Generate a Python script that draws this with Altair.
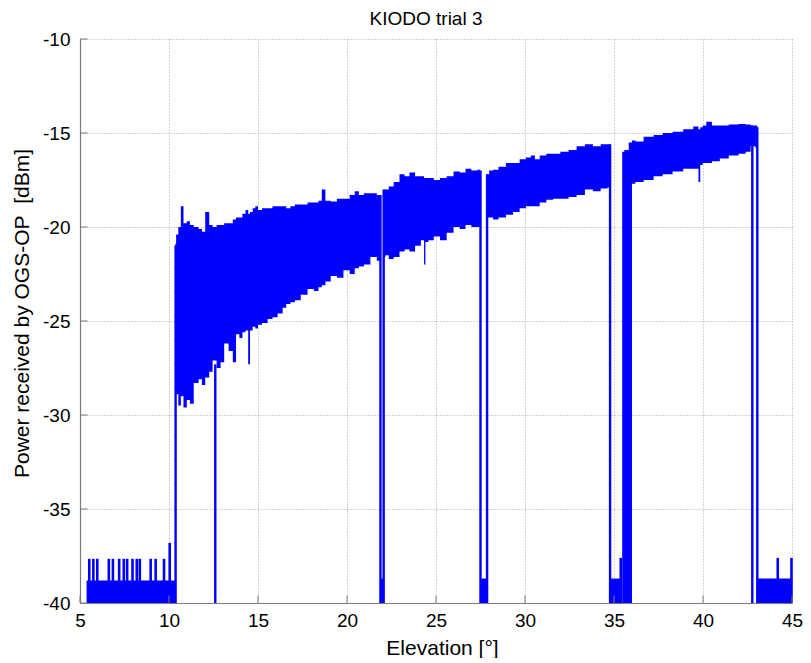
import altair as alt
import pandas as pd

# ---- received power envelope (upper / lower edge of the noisy trace), per segment ----
seg_a_elev = [10.35, 10.45, 10.6, 10.73, 10.9, 11.1, 11.25, 11.53, 11.8, 11.9, 12.17, 12.35, 12.55, 12.8,
              13.0, 13.2, 13.5, 13.67, 13.86, 14.05, 14.2, 14.4, 14.5, 14.6, 14.8, 14.9, 15.1, 15.35,
              15.73, 15.9, 16.3, 16.47, 16.7, 16.94, 17.2, 17.6, 17.97, 18.3, 18.5, 18.67, 18.9, 19.27,
              19.6, 20.0, 20.3, 20.57, 20.76, 21.13, 21.5, 21.85]
seg_a_high = [-20.9, -20.4, -20.0, -18.9, -19.8, -19.7, -19.9, -20.0, -20.1, -20.25, -19.2, -19.9, -20.0, -19.9,
              -19.9, -19.8, -19.8, -19.6, -19.5, -19.5, -19.3, -19.1, -19.3, -19.2, -19.0, -18.9, -19.1, -19.0,
              -19.0, -18.9, -18.9, -18.9, -19.0, -18.9, -18.8, -18.8, -18.7, -18.7, -18.6, -18.0, -18.6, -18.65,
              -18.5, -18.5, -18.3, -18.1, -18.3, -18.2, -18.2, -18.3]
seg_a_low = [-29.4, -28.9, -29.5, -29.0, -29.6, -29.2, -29.4, -28.3, -28.1, -28.4, -28.0, -27.7, -27.1, -27.5,
             -27.2, -26.2, -26.6, -27.2, -25.7, -25.9, -25.6, -25.5, -27.3, -25.5, -25.3, -25.4, -25.2, -25.1,
             -24.9, -24.8, -24.6, -24.3, -24.1, -24.0, -23.9, -23.6, -23.3, -23.4, -23.2, -23.1, -22.9, -22.6,
             -22.7, -22.3, -22.5, -22.2, -22.1, -22.0, -21.6, -21.8]

seg_b_elev = [22.07, 22.25, 22.44, 22.8, 23.1, 23.37, 23.65, 24.0, 24.3, 24.36, 24.45, 24.7, 25.05, 25.4,
              25.8, 26.17, 26.5, 26.82, 27.15, 27.48]
seg_b_high = [-18.0, -18.0, -17.85, -17.6, -17.2, -17.3, -17.1, -17.3, -17.3, -17.4, -17.4, -17.4, -17.5, -17.4,
              -17.3, -17.05, -17.1, -16.9, -17.0, -16.95]
seg_b_low = [-21.6, -21.5, -21.7, -21.6, -21.3, -21.2, -21.3, -21.0, -20.7, -22.0, -20.8, -20.7, -20.5, -20.7,
             -20.3, -20.0, -20.1, -19.9, -20.0, -20.0]

seg_c_elev = [27.87, 28.1, 28.32, 28.7, 29.16, 29.5, 29.9, 30.2, 30.46, 30.65, 31.0, 31.4, 31.77, 32.2,
              32.7, 33.1, 33.63, 34.0, 34.5, 34.78]
seg_c_high = [-17.2, -17.0, -16.95, -16.8, -16.6, -16.6, -16.4, -16.3, -16.2, -16.4, -16.2, -16.1, -16.1, -16.0,
              -15.9, -15.7, -15.6, -15.7, -15.6, -15.6]
seg_c_low = [-19.5, -19.5, -19.6, -19.5, -19.35, -19.2, -19.0, -18.9, -18.9, -18.9, -18.7, -18.55, -18.5, -18.5,
             -18.4, -18.3, -18.0, -18.1, -17.95, -17.9]

seg_d_elev = [35.46, 35.7, 35.96, 36.06, 36.34, 36.99, 37.46, 38.0, 38.58, 39.2, 39.7, 39.79, 39.9, 40.07,
              40.3, 40.7, 41.19, 41.7, 42.3, 42.5, 42.85, 43.05]
seg_d_high = [-16.0, -15.9, -15.5, -15.4, -15.45, -15.2, -15.1, -15.0, -14.93, -14.8, -14.66, -14.8, -14.7, -14.6,
              -14.4, -14.6, -14.6, -14.55, -14.52, -14.55, -14.6, -14.6]
seg_d_low = [-40.0, -40.0, -40.0, -17.7, -17.6, -17.5, -17.3, -17.2, -17.05, -16.9, -16.9, -17.6, -16.7, -16.6,
             -16.6, -16.5, -16.35, -16.2, -16.1, -16.0, -15.7, -15.8]

# ---- noise floor (no link) ----
floor_start = [5.37, 21.88, 27.48, 34.76, 43.05]
floor_end = [10.35, 22.07, 27.9, 35.45, 45.0]
floor_top = [-38.8, -38.7, -38.7, -38.7, -38.7]

spike_elev = [5.52, 5.75, 5.97, 6.62, 6.85, 7.2, 7.46, 7.65, 7.95, 8.19, 8.36, 8.97, 9.25, 9.72, 10.04,
              35.38, 44.2, 44.97]
spike_top = [-37.65, -37.65, -37.65, -37.65, -37.65, -37.65, -37.65, -37.65, -37.65, -37.65, -37.65,
             -37.65, -37.65, -37.65, -36.8, -37.6, -37.6, -37.6]

# ---- link drop-outs / transitions ----
drop_elev = [10.37, 12.6, 21.88, 22.06, 27.5, 27.87, 34.78, 42.77, 43.05]
drop_top = [-21.0, -27.3, -18.3, -18.0, -17.0, -17.2, -15.6, -14.6, -14.7]

x_ticks = [5, 10, 15, 20, 25, 30, 35, 40, 45]
y_ticks = [-40, -35, -30, -25, -20, -15, -10]

BLUE = "#0000ff"
FONT = "Liberation Sans"

rows = []
for name, e, h, l in [("A", seg_a_elev, seg_a_high, seg_a_low),
                      ("B", seg_b_elev, seg_b_high, seg_b_low),
                      ("C", seg_c_elev, seg_c_high, seg_c_low),
                      ("D", seg_d_elev, seg_d_high, seg_d_low)]:
    for a, b, c in zip(e, h, l):
        rows.append({"seg": name, "elev": a, "high": b, "low": c})
sig = pd.DataFrame(rows)
floors = pd.DataFrame({"start": floor_start, "end": floor_end, "top": floor_top})
spikes = pd.DataFrame({"elev": spike_elev, "top": spike_top})
drops = pd.DataFrame({"elev": drop_elev, "top": drop_top})
xt = pd.DataFrame({"v": x_ticks})
yt = pd.DataFrame({"v": y_ticks})

xscale = alt.Scale(domain=[5, 45], nice=False, zero=False)
yscale = alt.Scale(domain=[-40, -10], nice=False, zero=False)

x_axis = alt.Axis(values=x_ticks, title="Elevation [°]", grid=True, gridDash=[1, 2],
                  gridColor="#a8a8a8", gridWidth=1, domainColor="#7a7a7a", domainWidth=1.2,
                  ticks=False, labelFont=FONT, labelFontSize=19, labelColor="black",
                  labelPadding=8, labelExpr="'' + datum.value", titleFont=FONT,
                  titleFontSize=21, titleFontWeight="normal", titleColor="black",
                  titleX=362, titleY=45, titleBaseline="middle", labelFlush=False)
y_axis = alt.Axis(values=y_ticks, title="Power received by OGS-OP\u00a0 [dBm]", grid=True, gridDash=[1, 2],
                  gridColor="#a8a8a8", gridWidth=1, domainColor="#7a7a7a", domainWidth=1.2,
                  ticks=False, labelFont=FONT, labelFontSize=19, labelColor="black",
                  labelPadding=10, labelExpr="'' + datum.value", titleFont=FONT,
                  titleFontSize=21, titleFontWeight="normal", titleColor="black",
                  titleX=-58, titleY=274, titleAngle=-90, titleBaseline="middle",
                  titleAlign="center", labelFlush=False)

band = alt.Chart(sig).mark_area(color=BLUE, interpolate="step", opacity=1, clip=True).encode(
    x=alt.X("elev:Q", scale=xscale, axis=x_axis),
    y=alt.Y("high:Q", scale=yscale, axis=y_axis),
    y2="low:Q",
    detail="seg:N",
)
floor = alt.Chart(floors).mark_rect(color=BLUE, opacity=1).encode(
    x=alt.X("start:Q", scale=xscale), x2="end:Q",
    y=alt.Y("top:Q", scale=yscale), y2=alt.datum(-40),
)
spike = alt.Chart(spikes).mark_rule(color=BLUE, strokeWidth=2.6).encode(
    x=alt.X("elev:Q", scale=xscale),
    y=alt.Y("top:Q", scale=yscale), y2=alt.datum(-40),
)
drop = alt.Chart(drops).mark_rule(color=BLUE, strokeWidth=2.4).encode(
    x=alt.X("elev:Q", scale=xscale),
    y=alt.Y("top:Q", scale=yscale), y2=alt.datum(-40),
)
xtick = alt.Chart(xt).mark_rule(color="#7a7a7a", strokeWidth=1).encode(
    x=alt.X("v:Q", scale=xscale), y=alt.datum(-40), y2=alt.datum(-39.6),
)
ytick = alt.Chart(yt).mark_rule(color="#7a7a7a", strokeWidth=1).encode(
    y=alt.Y("v:Q", scale=yscale), x=alt.datum(5), x2=alt.datum(5.42),
)

chart = alt.layer(band, floor, spike, drop, xtick, ytick).properties(
    width=712, height=564,
    padding={"left": 72, "top": 31, "right": 11, "bottom": 55},
    autosize=alt.AutoSizeParams(type="none"),
    title=alt.TitleParams("KIODO trial 3", font=FONT, fontSize=19, fontWeight="normal",
                          color="black", anchor="middle", offset=1, dx=-10),
).configure_view(stroke=None)

chart.save("out.html", embed_options={"renderer": "svg", "actions": False})
